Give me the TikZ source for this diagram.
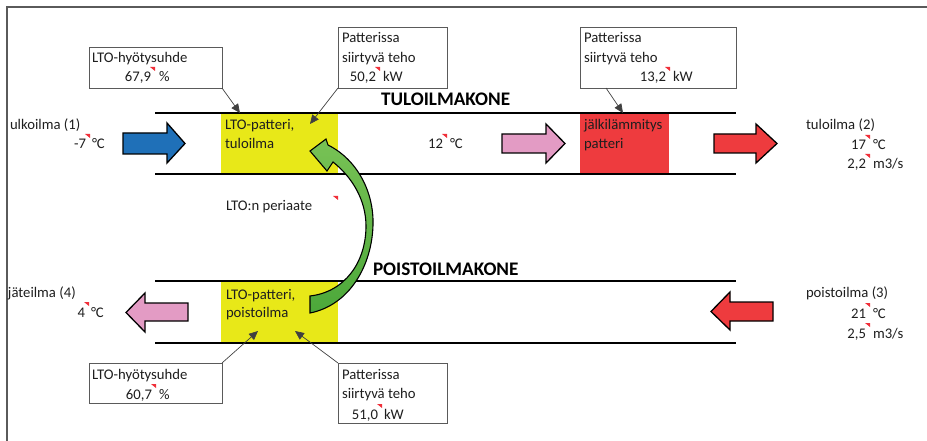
\documentclass[tikz,border=0pt]{standalone}
\usepackage{fontspec}
\setmainfont{Carlito}
\usetikzlibrary{arrows.meta,calc}
\definecolor{inkc}{HTML}{1E1E1E}
\definecolor{lto}{HTML}{E8E818}
\definecolor{heat}{HTML}{EE3B3E}
\definecolor{coldair}{HTML}{1F70B8}
\definecolor{mixair}{HTML}{E39BC4}
\definecolor{warmair}{HTML}{EE3B3E}
\definecolor{swingtop}{HTML}{78C255}
\definecolor{swingbot}{HTML}{4CA83A}
\definecolor{cmtred}{HTML}{F0303A}
\definecolor{framec}{HTML}{5A5A5A}

% number, comment marker and unit of one measured value
\newcommand\reading[6]{%
  \node[txt, anchor=base east] (#1n) at (#2,#3) {#4};
  \fill[cmt] (#2-1,#3-15) -- ++(5,0) -- ++(0,4) -- cycle;
  \node[txt, anchor=base west] (#1u) at (#2+#6,#3) {#5};}

\begin{document}
\begin{tikzpicture}[x=1pt,y=-1pt,
  txt/.style={inner sep=0pt, outer sep=0pt, text=inkc, font=\fontsize{14.7}{17}\selectfont},
  title/.style={inner sep=0pt, outer sep=0pt, text=black, font=\fontsize{19.2}{22}\selectfont\bfseries},
  infobox/.style={draw=framec, line width=0.9pt, inner sep=0pt, outer sep=0pt, anchor=north west, fill=white},
  ptr/.style={draw=black!75, line width=0.7pt, -{Triangle[length=9pt,width=8pt]}},
  duct/.style={line width=2.6pt, black},
  blockarrow/.style={draw=black, line width=1.3pt, line join=miter},
  cmt/.style={fill=cmtred}]
\useasboundingbox (0,0) rectangle (927,441);

% outer frame
\draw[framec, line width=1.3pt] (7,441) -- (7,7) -- (927,7);

% coils
\fill[lto] (221,113) rectangle (338,174);
\fill[lto] (221,281) rectangle (338,343);
\fill[heat] (580,113) rectangle (669,174);

% ducts
\draw[duct] (155,113) -- (736,113);
\draw[duct] (155,174) -- (736,174);
\draw[duct] (155,281) -- (736,281);
\draw[duct] (155,343) -- (736,343);

% air flow arrows
\draw[blockarrow, fill=coldair] (123,133) -- (167,133) -- (167,123) -- (185,143.5) -- (167,163) -- (167,154) -- (123,154) -- cycle;
\draw[blockarrow, fill=mixair] (502,134) -- (546,134) -- (546,124) -- (565,143.5) -- (546,163) -- (546,153) -- (502,153) -- cycle;
\draw[blockarrow, fill=warmair] (714,134) -- (756,134) -- (756,124) -- (777,143.5) -- (756,163) -- (756,153) -- (714,153) -- cycle;
\draw[blockarrow, fill=mixair] (188,303) -- (145,303) -- (145,293) -- (126,312.5) -- (145,332) -- (145,321) -- (188,321) -- cycle;
\draw[blockarrow, fill=warmair] (773,302) -- (730,302) -- (730,292) -- (711,311.5) -- (730,330) -- (730,321) -- (773,321) -- cycle;

% heat recovery arrow
\path[draw=black, line width=1.1pt, line join=miter, top color=swingtop, bottom color=swingbot]
  (310,313) .. controls (350,305) and (372,265) .. (373,225)
  .. controls (374,193) and (358,160) .. (328,145)
  -- (326,139) -- (310,151) -- (327,171) -- (333,162)
  .. controls (352,177) and (366,200) .. (366,226)
  .. controls (366,262) and (345,292) .. (310,296)
  -- cycle;

% titles
\node[title, anchor=base west] (supply) at (381,106) {TULOILMAKONE};
\node[title, anchor=base west] (exhaust) at (373,275) {POISTOILMAKONE};

% flow labels
\node[txt, anchor=base west] (inlbl) at (10,130) {ulkoilma (1)};
\node[txt, anchor=base west] (outlbl) at (806,130) {tuloilma (2)};
\node[txt, anchor=base west] (exlbl) at (8,297) {jäteilma (4)};
\node[txt, anchor=base west] (retlbl) at (806,297) {poistoilma (3)};

% coil labels
\node[txt, anchor=base west] (c1a) at (225,130) {LTO-patteri,};
\node[txt, anchor=base west] (c1b) at (225,149) {tuloilma};
\node[txt, anchor=base west] (c2a) at (226,299) {LTO-patteri,};
\node[txt, anchor=base west] (c2b) at (226,317) {poistoilma};
\node[txt, anchor=base west] (c3a) at (584,130) {jälkilämmitys};
\node[txt, anchor=base west] (c3b) at (584,149) {patteri};
\node[txt, anchor=base west] (princ) at (226,211) {LTO:n periaate};
\fill[cmt] (333,196) -- ++(5,0) -- ++(0,4) -- cycle;

% info boxes
\node[infobox, minimum width=133pt, minimum height=41pt] (b1) at (89,47) {};
\node[infobox, minimum width=109pt, minimum height=61pt] (b2) at (338,27) {};
\node[infobox, minimum width=156pt, minimum height=61pt] (b3) at (580,27) {};
\node[infobox, minimum width=133pt, minimum height=40pt] (b4) at (89,363) {};
\node[infobox, minimum width=109pt, minimum height=60pt] (b5) at (338,363) {};

\node[txt, anchor=base west] (b1t) at (92,63) {LTO-hyötysuhde};
\node[txt, anchor=base west] (b2t) at (342,43) {Patterissa};
\node[txt, anchor=base west] (b2s) at (342,63) {siirtyvä teho};
\node[txt, anchor=base west] (b3t) at (584,43) {Patterissa};
\node[txt, anchor=base west] (b3s) at (584,63) {siirtyvä teho};
\node[txt, anchor=base west] (b4t) at (92,379) {LTO-hyötysuhde};
\node[txt, anchor=base west] (b5t) at (342,379) {Patterissa};
\node[txt, anchor=base west] (b5s) at (342,398) {siirtyvä teho};

% pointers from the boxes to the coils
\coordinate (p1) at (240,113);
\coordinate (p2) at (310,124);
\coordinate (p3) at (623,113);
\coordinate (p4) at (258,331);
\coordinate (p5) at (295,331);
\draw[ptr] (b1.south east) -- (p1);
\draw[ptr] (b2.south west) -- (p2);
\draw[ptr] ($(b3.south west)+(26,0)$) -- (p3);
\draw[ptr] (b4.north east) -- (p4);
\draw[ptr] (b5.north west) -- (p5);

% measured values
\reading{r1}{151}{82}{67,9}{\%}{8}
\reading{r2}{376}{82}{50,2}{kW}{7}
\reading{r3}{666}{82}{13,2}{kW}{7}
\reading{r4}{86}{149}{-7}{°C}{6}
\reading{r5}{443}{149}{12}{°C}{7}
\reading{r6}{866}{150}{17}{°C}{7}
\reading{r7}{866}{169}{2,2}{m3/s}{7}
\reading{r8}{85}{317}{4}{°C}{6}
\reading{r9}{866}{318}{21}{°C}{7}
\reading{r10}{866}{338}{2,5}{m3/s}{7}
\reading{r11}{152}{399}{60,7}{\%}{7}
\reading{r12}{378}{419}{51,0}{kW}{6}
\end{tikzpicture}
\end{document}
